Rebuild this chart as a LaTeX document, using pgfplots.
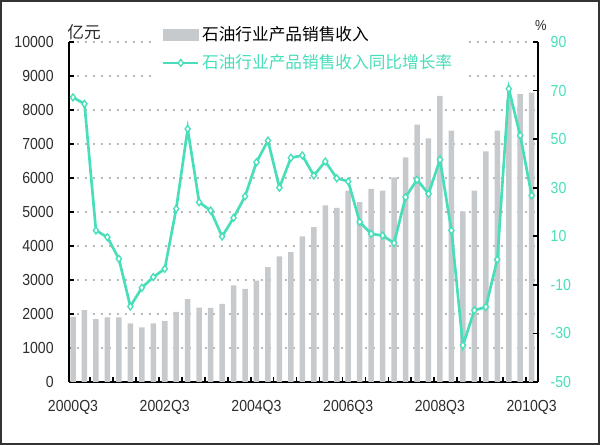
\documentclass[border=0pt]{standalone}
\usepackage{fontspec}
\setmainfont{Liberation Sans}[FakeStretch=0.88]
\newfontfamily\cjk{Noto Sans CJK SC}
\usepackage{pgfplots}
\usepackage{pgfplotstable}
\pgfplotsset{compat=1.18}
\definecolor{barcol}{RGB}{198,202,204}
\definecolor{linecol}{RGB}{72,222,186}
\definecolor{txt}{RGB}{45,45,45}
\definecolor{gridc}{RGB}{185,185,185}

\pgfplotstableread{
x bar rate
0 1915 67.2
1 2111 64.5
2 1848 12.4
3 1897 9.6
4 1897 0.7
5 1721 -18.9
6 1604 -11.2
7 1721 -6.8
8 1789 -3.4
9 2062 21.3
10 2434 54.2
11 2190 24.0
12 2180 20.6
13 2297 9.9
14 2845 17.6
15 2740 26.4
16 2980 40.5
17 3381 49.4
18 3695 30.0
19 3822 42.3
20 4282 43.3
21 4555 35.0
22 5191 40.8
23 5123 33.9
24 5630 32.6
25 5288 15.9
26 5680 11.0
27 5630 10.3
28 6020 7.2
29 6607 26.1
30 7566 33.3
31 7164 27.5
32 8416 41.5
33 7390 12.4
34 5015 -34.9
35 5630 -20.5
36 6783 -19.1
37 7390 0.4
38 8300 70.7
39 8466 51.5
40 8513 26.8
}\datatable

\begin{document}
\begin{tikzpicture}
\useasboundingbox (0,0) rectangle (450pt,333.75pt);
\begin{axis}[
 at={(51.75pt,47.25pt)}, anchor=south west,
 scale only axis, width=351.75pt, height=255pt,
 xmin=-0.35, xmax=40.55, ymin=0, ymax=10000,
 axis x line*=bottom, axis y line*=left,
 axis line style={-, line width=1.2pt, black},
 tick align=inside,
 major tick length=3.5pt,
 tick style={black, line width=1.2pt},
 ytick={0,1000,...,10000},
 ymajorgrids,
 grid style={gridc, line width=1pt, dash pattern=on 1.8pt off 4.2pt},
 xtick={1.5,3.5,...,39.5},
 xticklabel={\mbox{}},
 extra x ticks={0,8,16,24,32,40},
 extra x tick labels={2000Q3,2002Q3,2004Q3,2006Q3,2008Q3,2010Q3},
 extra x tick style={major tick length=0pt, grid=none},
 ticklabel style={font=\fontsize{12}{14}\selectfont, text=txt},
 /pgf/number format/assume math mode=true,
 scaled y ticks=false,
 yticklabel style={/pgf/number format/1000 sep={}, xshift=-8pt},
 xticklabel style={yshift=-10pt},
 clip=false,
]
\addplot[ybar, bar width=0.48, fill=barcol, draw=none] table[x=x,y=bar]{\datatable};
\node[font=\cjk\fontsize{12.5}{14}\selectfont, text=txt] at (rel axis cs:0.032,1.029) {亿元};
\end{axis}
\begin{axis}[
 at={(51.75pt,47.25pt)}, anchor=south west,
 scale only axis, width=351.75pt, height=255pt,
 xmin=-0.35, xmax=40.55, ymin=-50, ymax=90,
 axis x line=none, axis y line*=right,
 axis line style={-, line width=1.2pt, black},
 tick align=inside, major tick length=4pt, tick style={black, line width=1.2pt},
 ytick={-50,-30,...,90},
 yticklabel style={font=\fontsize{12}{14}\selectfont, text=linecol, xshift=6pt},
 /pgf/number format/assume math mode=true,
 legend style={at={(axis description cs:0.181,1.065)}, anchor=north west, draw=none, fill=white, inner xsep=6pt, inner ysep=3pt, font=\cjk\fontsize{12.5}{15}\selectfont, row sep=5pt, cells={anchor=west}},
 legend cell align=left,
 clip=false,
]
\addlegendimage{legend image code/.code={\fill[barcol] (0pt,-4pt) rectangle (26pt,4pt);}}
\addlegendentry{石油行业产品销售收入}
\addplot[linecol, line width=2pt, mark=diamond*, mark size=2.6pt, mark options={fill=white, line width=1pt},
 legend image code/.code={\draw[mark repeat=2, mark phase=2] plot coordinates {(0pt,0pt) (13pt,0pt) (26pt,0pt)};}]
 table[x=x,y=rate]{\datatable};
\addlegendentry{\textcolor{linecol}{石油行业产品销售收入同比增长率}}
\node[font=\fontsize{11}{13}\selectfont, text=txt] at (rel axis cs:1.006,1.05) {\%};
\end{axis}
\draw[line width=1.5pt, black!80] (0.75pt,0.75pt) rectangle (449.25pt,333pt);
\end{tikzpicture}
\end{document}
